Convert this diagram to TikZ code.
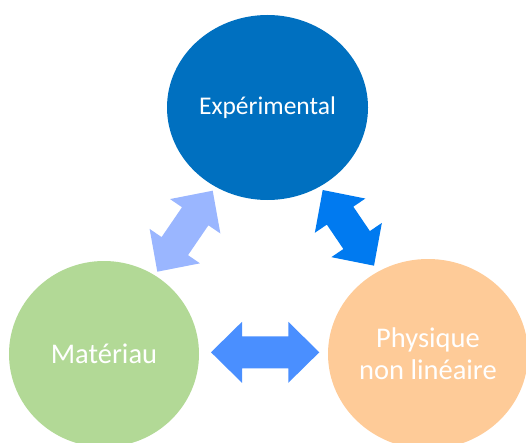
\documentclass[tikz,border=0pt]{standalone}
\usepackage{fontspec}
\setmainfont{Carlito}
\usetikzlibrary{shapes.geometric,calc}
\definecolor{bleuexp}{HTML}{0070C0}
\definecolor{vertmat}{HTML}{B2D996}
\definecolor{orangephy}{HTML}{FECB98}
\definecolor{bleuclair}{HTML}{9AB6FF}
\definecolor{bleuvif}{HTML}{007AF0}
\definecolor{bleumoyen}{HTML}{4A8FFF}
\begin{document}
\begin{tikzpicture}[x=1pt, y=1pt,
    cercle/.style={ellipse, inner sep=0pt, text=white, align=center},
    % flèche double pleine : pointes de 31pt, corps de 32pt
    fleche/.style={to path={
        (\tikztostart)
        -- ($(\tikztostart)!31pt!(\tikztotarget)!30.5pt!90:(\tikztotarget)$)
        -- ($(\tikztostart)!31pt!(\tikztotarget)!16pt!90:(\tikztotarget)$)
        -- ($(\tikztotarget)!31pt!(\tikztostart)!16pt!-90:(\tikztostart)$)
        -- ($(\tikztotarget)!31pt!(\tikztostart)!30.5pt!-90:(\tikztostart)$)
        -- (\tikztotarget)
        -- ($(\tikztotarget)!31pt!(\tikztostart)!30.5pt!90:(\tikztostart)$)
        -- ($(\tikztotarget)!31pt!(\tikztostart)!16pt!90:(\tikztostart)$)
        -- ($(\tikztostart)!31pt!(\tikztotarget)!16pt!-90:(\tikztotarget)$)
        -- ($(\tikztostart)!31pt!(\tikztotarget)!30.5pt!-90:(\tikztotarget)$)
        -- cycle}}]
    \useasboundingbox (0,0) rectangle (526,442);
    \clip (0,0) rectangle (526,442);

    % Cercle du haut
    \node[cercle, fill=bleuexp, minimum width=201pt, minimum height=185pt,
        font=\fontsize{25.5}{30}\selectfont] (exp) at (267.5,334.5) {Expérimental};

    % Cercles du bas
    \node[cercle, fill=vertmat, minimum width=190pt, minimum height=186pt,
        font=\fontsize{28.5}{32}\selectfont] (mat) at (104,88) {Matériau};
    \node[cercle, fill=orangephy, minimum width=200pt, minimum height=190pt,
        font=\fontsize{28.5}{32}\selectfont] (phy) at (428,88) {Physique\\non linéaire};

    % Extrémités des flèches
    \coordinate (mat-exp) at (157.3,170.3);
    \coordinate (exp-mat) at (212.7,251.3);
    \coordinate (exp-phy) at (322.7,252);
    \coordinate (phy-exp) at (374,176.3);
    \coordinate (mat-phy) at (211,89.7);
    \coordinate (phy-mat) at (319.3,89.7);

    % Flèches doubles
    \fill[bleuclair] (mat-exp) to[fleche] (exp-mat);
    \fill[bleuvif] (exp-phy) to[fleche] (phy-exp);
    \fill[bleumoyen] (mat-phy) to[fleche] (phy-mat);
\end{tikzpicture}
\end{document}
